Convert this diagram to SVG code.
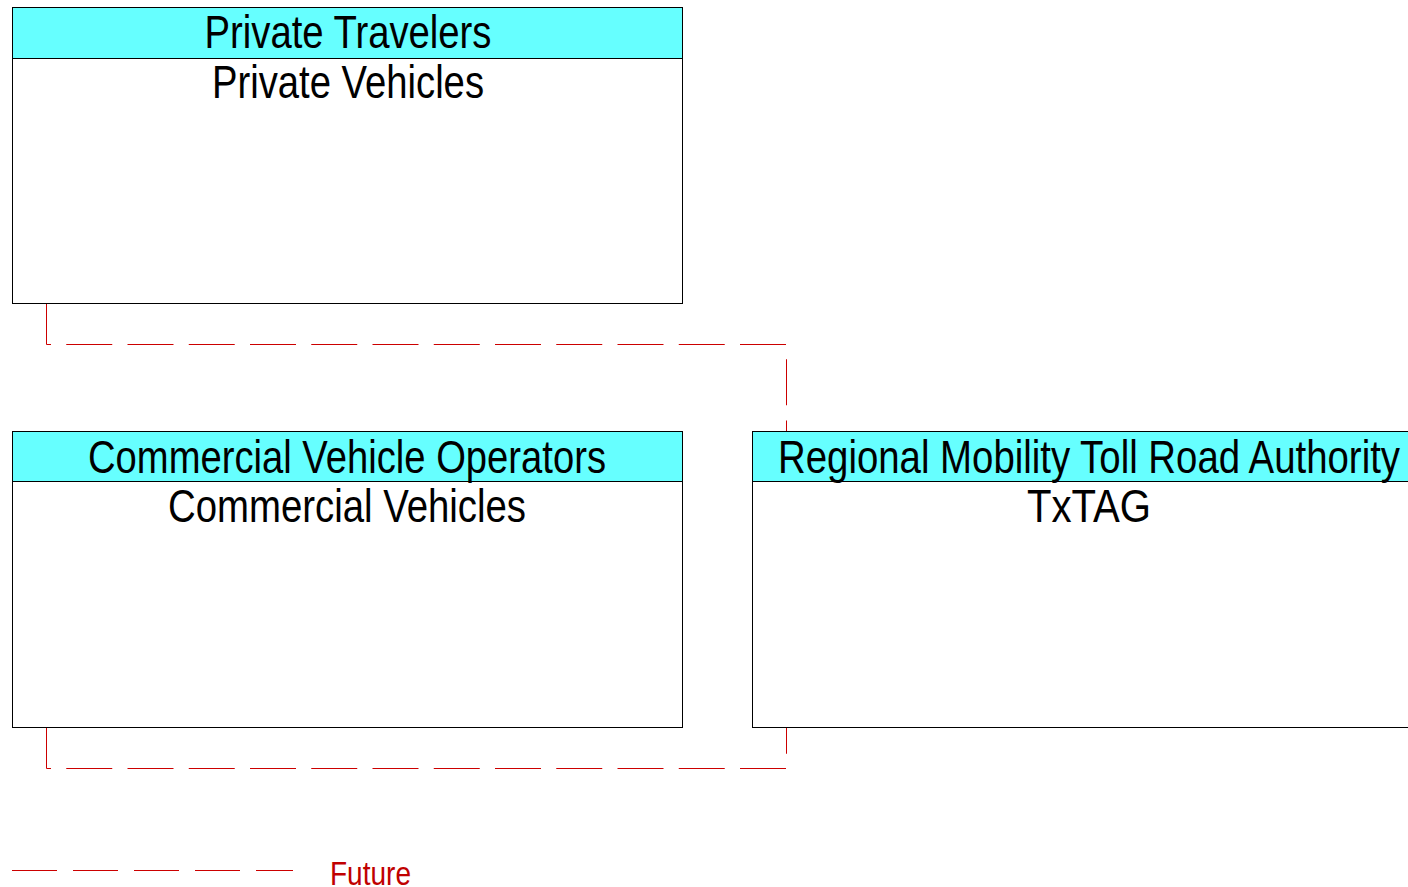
<svg xmlns="http://www.w3.org/2000/svg" width="1408" height="887" viewBox="0 0 1408 887">
<style>
.box{fill:#FFFFFF;stroke:#000000;stroke-width:1}
.hdr{fill:#66FFFF;stroke:#000000;stroke-width:1}
.t{font-family:"Liberation Sans",Arial,sans-serif;font-size:46px;fill:#000000;text-anchor:middle}
.flow{fill:none;stroke:#CC0000;stroke-width:1;stroke-dasharray:46 15.25}
.lg{font-family:"Liberation Sans",Arial,sans-serif;font-size:33px;fill:#C00000}
</style>
<rect width="1408" height="887" fill="#FFFFFF"/>
<g id="connectors">
<path class="flow" d="M46.5,303 V344.5 H786.5 V431"/>
<path class="flow" d="M46.5,727 V768.5 H786.5 V727"/>
</g>
<g id="private-vehicles">
<rect class="box" x="12.5" y="7.5" width="670" height="296"/>
<rect class="hdr" x="12.5" y="7.5" width="670" height="51"/>
<text class="t" x="348" y="48" textLength="287" lengthAdjust="spacingAndGlyphs">Private Travelers</text>
<text class="t" x="348" y="98" textLength="272" lengthAdjust="spacingAndGlyphs">Private Vehicles</text>
</g>
<g id="commercial-vehicles">
<rect class="box" x="12.5" y="431.5" width="670" height="296"/>
<rect class="hdr" x="12.5" y="431.5" width="670" height="50"/>
<text class="t" x="347" y="473" textLength="518" lengthAdjust="spacingAndGlyphs">Commercial Vehicle Operators</text>
<text class="t" x="347" y="522" textLength="358" lengthAdjust="spacingAndGlyphs">Commercial Vehicles</text>
</g>
<g id="txtag">
<rect class="box" x="752.5" y="431.5" width="674" height="296"/>
<rect class="hdr" x="752.5" y="431.5" width="674" height="50"/>
<text class="t" x="1089" y="473" textLength="622" lengthAdjust="spacingAndGlyphs">Regional Mobility Toll Road Authority</text>
<text class="t" x="1089" y="522" textLength="124" lengthAdjust="spacingAndGlyphs">TxTAG</text>
</g>
<g id="legend">
<path d="M12,870.5 H293" fill="none" stroke="#CC0000" stroke-width="1" stroke-dasharray="45 16"/>
<text class="lg" x="330" y="885" textLength="81" lengthAdjust="spacingAndGlyphs">Future</text>
</g>
</svg>
